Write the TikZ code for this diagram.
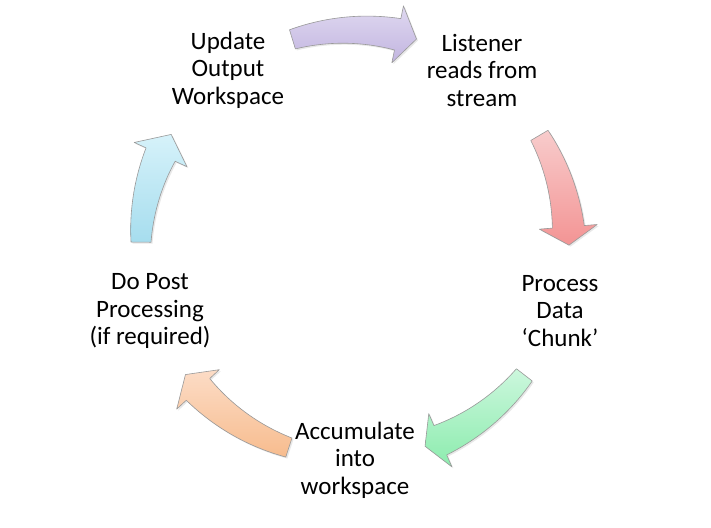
\documentclass[tikz,border=0pt]{standalone}
\usepackage{fontspec}
\setmainfont{Carlito}
\usetikzlibrary{shadows}
\newcommand\cycarrow[4]{%
  \path[cyclearrow,#4]
    plot[domain=#1:#2,samples=30] ({\x}:{224+6*((#1)-(\x))/((#1)-(#2))})
    -- ({#2}:243) -- ({#3}:214) -- ({#2}:185) --
    plot[domain=#2:#1,samples=30] ({\x}:{204-6*((#1)-(\x))/((#1)-(#2))})
    -- cycle;}
\tikzset{
  lbl/.style={font=\fontsize{25}{27.5}\selectfont, align=center, inner sep=0pt},
  cyclearrow/.style={draw=black!40, line width=0.6pt, line join=round,
    drop shadow={opacity=0.18, shadow xshift=1.5pt, shadow yshift=-1.5pt}},
  purplearrow/.style={top color=purpT, bottom color=purpB},
  redarrow/.style={top color=redT, bottom color=redB},
  greenarrow/.style={top color=grnT, bottom color=grnB},
  orangearrow/.style={top color=orgT, bottom color=orgB},
  bluearrow/.style={top color=bluT, bottom color=bluB},
}
\definecolor{purpT}{HTML}{DFD8F0}\definecolor{purpB}{HTML}{C2B5E0}
\definecolor{redT}{HTML}{F8CCCC}\definecolor{redB}{HTML}{F39494}
\definecolor{grnT}{HTML}{CCF7DD}\definecolor{grnB}{HTML}{8CECAE}
\definecolor{orgT}{HTML}{FCDCC6}\definecolor{orgB}{HTML}{F7BC8E}
\definecolor{bluT}{HTML}{D6F2FA}\definecolor{bluB}{HTML}{A6DDEE}
\begin{document}
\begin{tikzpicture}[x=1pt,y=1pt]
  \fill[white] (0,0) rectangle (711,527);
  \useasboundingbox (0,0) rectangle (711,527);
  \coordinate (c) at (355,283);
  \begin{scope}[shift={(c)}]
    \cycarrow{107}{78.5}{73.3}{purplearrow}
    \cycarrow{30.5}{4.6}{-0.3}{redarrow}
    \cycarrow{-37.7}{-66.5}{-70.9}{greenarrow}
    \cycarrow{-108}{-137.2}{-142.4}{orangearrow}
    \cycarrow{179.5}{155.3}{149.2}{bluearrow}
  \end{scope}
  \node[lbl] (listener) at (482,457) {Listener\\reads from\\stream};
  \node[lbl] (process) at (560,216) {Process\\Data\\‘Chunk’};
  \node[lbl] (accum) at (355,67) {Accumulate\\into\\workspace};
  \node[lbl] (post) at (150,216) {Do Post\\Processing\\(if required)};
  \node[lbl] (update) at (228,457) {Update\\Output\\Workspace};
\end{tikzpicture}
\end{document}
